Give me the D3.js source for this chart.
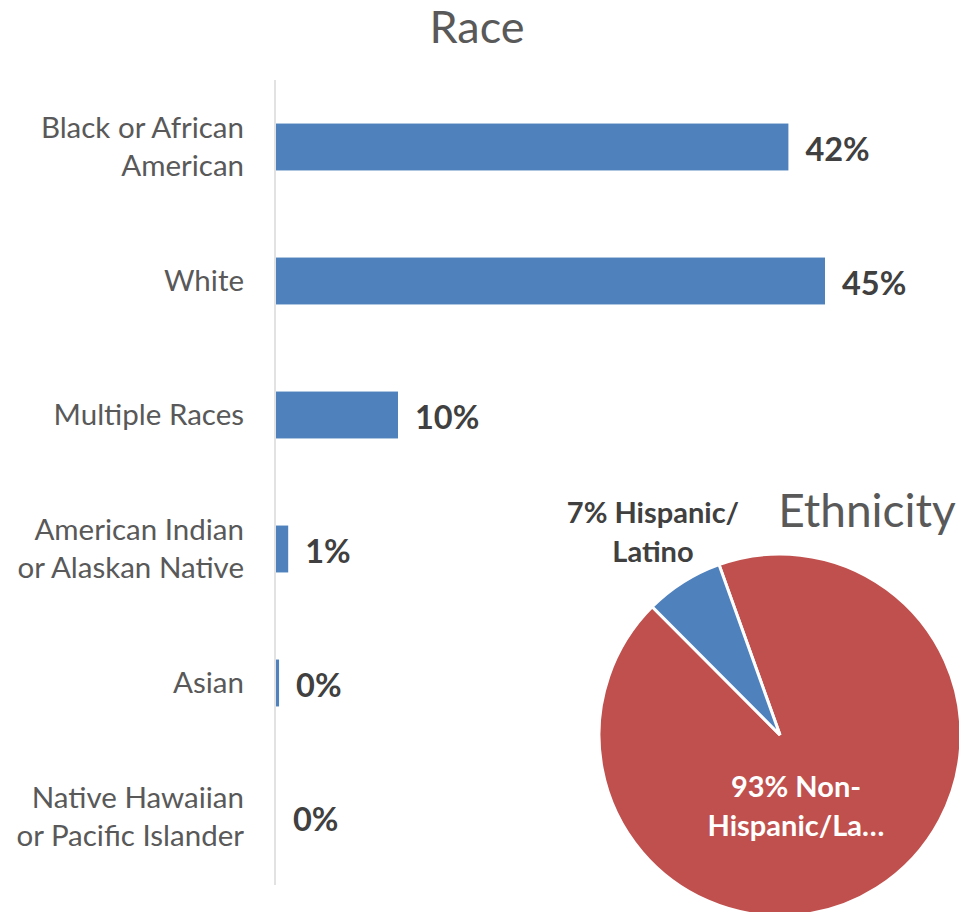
<!DOCTYPE html>
<html>
<head>
<meta charset="utf-8">
<title>Race and Ethnicity</title>
<style>
body { margin: 0; background: #fff; }
text { font-family: Lato, "Open Sans", sans-serif; }
</style>
</head>
<body>
<script src="https://cdn.jsdelivr.net/npm/d3@7"></script>
<script>
// race bars
var categories = [
  ["Black or African", "American"],
  ["White"],
  ["Multiple Races"],
  ["American Indian", "or Alaskan Native"],
  ["Asian"],
  ["Native Hawaiian", "or Pacific Islander"]
];
var values = [42, 45, 10, 1, 0.25, 0];

// ethnicity pie
var ethLabels = [["93% Non-", "Hispanic/La\u2026"], ["7% Hispanic/", "Latino"]];
var ethValues = [93, 7];

var width = 959, height = 912;

var svg = d3.select("body").append("svg")
    .attr("width", width)
    .attr("height", height);

var x = d3.scaleLinear()
    .domain([0, 45])
    .range([276, 825]);

var y = d3.scaleBand()
    .domain(d3.range(categories.length))
    .range([80, 884])
    .paddingInner(0.65)
    .paddingOuter(0.325);

svg.append("text")
    .attr("x", 477)
    .attr("y", 43)
    .attr("text-anchor", "middle")
    .style("font-size", "45px")
    .style("fill", "#595959")
    .text("Race");

// vertical axis line
svg.append("line")
    .attr("x1", 275).attr("x2", 275)
    .attr("y1", 80).attr("y2", 885)
    .style("stroke", "#d9d9d9")
    .style("stroke-width", 1.5);

svg.selectAll(".bar")
    .data(values)
  .enter().append("rect")
    .attr("class", "bar")
    .attr("x", x(0))
    .attr("y", function(d, i) { return y(i); })
    .attr("width", function(d) { return x(d) - x(0); })
    .attr("height", y.bandwidth())
    .style("fill", "#4f81bd");

svg.selectAll(".val")
    .data(values)
  .enter().append("text")
    .attr("class", "val")
    .attr("x", function(d) { return x(d) + 17; })
    .attr("y", function(d, i) { return y(i) + y.bandwidth() / 2 + 3; })
    .attr("dy", ".35em")
    .style("font-size", "32.5px")
    .style("font-weight", "bold")
    .style("fill", "#404040")
    .text(function(d) { return d3.format(".0f")(d) + "%"; });

var cat = svg.selectAll(".cat")
    .data(categories)
  .enter().append("text")
    .attr("class", "cat")
    .attr("text-anchor", "end")
    .style("font-size", "29.5px")
    .style("fill", "#595959");

cat.selectAll("tspan")
    .data(function(d, i) { return d.map(function(s, j) { return {s: s, j: j, n: d.length, i: i}; }); })
  .enter().append("tspan")
    .attr("x", 244)
    .attr("y", function(d) { return y(d.i) + y.bandwidth() / 2 + (d.j - (d.n - 1) / 2) * 38; })
    .attr("dy", ".35em")
    .text(function(d) { return d.s; });

// pie
var cx = 780, cy = 735, r = 181;
var pie = d3.pie().sort(null)
    .startAngle(-19.7 * Math.PI / 180)
    .endAngle(340.3 * Math.PI / 180);
var arc = d3.arc().innerRadius(0).outerRadius(r);
var pieColor = ["#c0504d", "#4f81bd"];

var g = svg.append("g").attr("transform", "translate(" + cx + "," + cy + ")");
g.selectAll(".slice")
    .data(pie(ethValues))
  .enter().append("path")
    .attr("class", "slice")
    .attr("d", arc)
    .style("fill", function(d, i) { return pieColor[i]; })
    .style("stroke", "#fff")
    .style("stroke-width", 3);

svg.append("text")
    .attr("x", 867)
    .attr("y", 527)
    .attr("text-anchor", "middle")
    .style("font-size", "46px")
    .style("fill", "#595959")
    .text("Ethnicity");

var labelPos = [[796, 787], [653, 513]];
var labelFill = ["#fff", "#404040"];
ethLabels.forEach(function(lines, i) {
  var t = svg.append("text")
      .attr("text-anchor", "middle")
      .style("font-size", "29px")
      .style("font-weight", "bold")
      .style("fill", labelFill[i]);
  lines.forEach(function(s, j) {
    t.append("tspan")
        .attr("x", labelPos[i][0])
        .attr("y", labelPos[i][1] + j * 39)
        .attr("dy", ".35em")
        .text(s);
  });
});
</script>
</body>
</html>
